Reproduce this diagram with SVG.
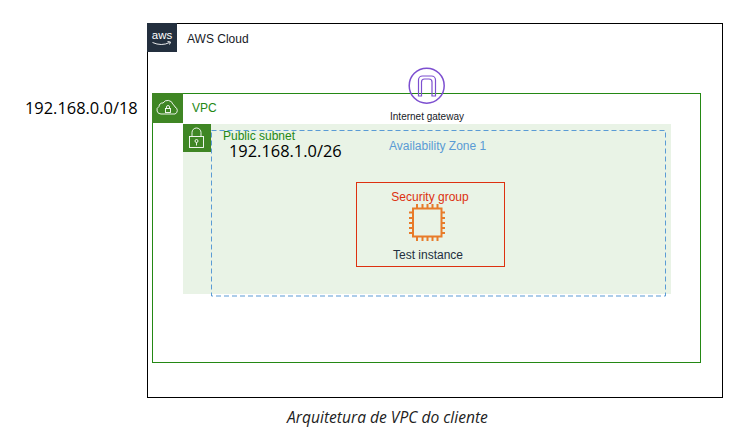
<svg xmlns="http://www.w3.org/2000/svg" width="748" height="434" viewBox="0 0 748 434">
<style>
.a{font-family:"Liberation Sans",Arial,sans-serif;font-size:12px}
.o{font-family:"Open Sans","Noto Sans",sans-serif}
.w{fill:none;stroke:#fff;stroke-width:.9}
.c{fill:none;stroke:#e87b29;stroke-width:2}
.p{fill:none;stroke:#7d4fd0}
</style>
<rect width="748" height="434" fill="#fff"/>
<g id="aws-cloud">
<rect x="147.500" y="23.500" width="575" height="374" fill="#fff" stroke="#000"/>
<rect x="147" y="23" width="30" height="29" fill="#232f3e"/>
<text x="162" y="38.500" text-anchor="middle" font-family="'Liberation Sans',sans-serif" font-size="11.500" fill="#fff">aws</text>
<path d="M152.500 42.500q9 4 17 0M167.500 41.500l3 .5l-1 2.500" class="w"/>
<text x="187" y="43" class="a" fill="#16191f">AWS Cloud</text>
</g>
<g id="vpc">
<rect x="152.500" y="93.500" width="548" height="269" fill="none" stroke="#248814"/>
<rect x="152" y="93" width="31" height="30" fill="#3f8624"/>
<path d="M161 114a4 4 0 0 1-2-7.500a3.500 3.500 0 0 1 4-3.500a5.500 5.500 0 0 1 10 1.500a3.500 3.500 0 0 1 2 2.500a3.800 3.800 0 0 1 0 7z" class="w"/>
<rect x="165.500" y="108.500" width="5" height="4" class="w"/>
<path d="M166.500 108.500v-1.500a1.500 1.500 0 0 1 3 0v1.500" class="w"/>
<text x="192" y="112" class="a" fill="#248814">VPC</text>
</g>
<g id="public-subnet">
<rect x="183" y="124" width="488" height="170" fill="#e9f3e6"/>
<rect x="183" y="124" width="28" height="28" fill="#3f8624"/>
<rect x="189.500" y="136.500" width="14" height="11" class="w"/>
<path d="M192 136.500v-4a4.500 4.500 0 0 1 9 0v4" class="w"/>
<circle cx="196.500" cy="141" r="1.500" class="w"/><path d="M196.500 142.500v3" class="w"/>
<text x="223" y="140" class="a" fill="#248814">Public subnet</text>
<text x="229" y="157" class="o" font-size="16.400" fill="#000">192.168.1.0/26</text>
</g>
<g id="availability-zone">
<rect x="211.500" y="130.500" width="454" height="165.500" fill="none" stroke="#5a9bd5" stroke-dasharray="5 3"/>
<text x="389" y="150" class="a" fill="#5a9bd5">Availability Zone 1</text>
</g>
<g id="internet-gateway">
<circle cx="426.700" cy="85.700" r="17.500" class="p" stroke-width="1.500"/>
<path d="M418.500 96V80a4 4 0 0 1 4-4h9a4 4 0 0 1 4 4v16h-3.500V82a3 3 0 0 0-3-3h-4.500a3 3 0 0 0-3 3v14z" class="p" stroke-width="1.200"/>
<text x="427" y="120" text-anchor="middle" font-family="'Liberation Sans',sans-serif" font-size="10" fill="#16191f">Internet gateway</text>
</g>
<g id="security-group">
<rect x="356.500" y="182.500" width="148" height="84" fill="none" stroke="#dd3010"/>
<text x="430" y="201" text-anchor="middle" class="a" fill="#dd3010">Security group</text>
</g>
<g id="test-instance">
<rect x="413" y="208.500" width="28.500" height="28" class="c"/>
<path d="M417 208v-4M422.500 208v-4M427.500 208v-4M432.500 208v-4M437.500 208v-4M417 237v4M422.500 237v4M427.500 237v4M432.500 237v4M437.500 237v4M413 212.500h-4M413 218h-4M413 223h-4M413 228h-4M413 233h-4M441 212.500h4M441 218h4M441 223h4M441 228h4M441 233h4" class="c" stroke-width="1.500"/>
<text x="428" y="259" text-anchor="middle" class="a" fill="#232f3e">Test instance</text>
</g>
<text x="25" y="114" class="o" font-size="16.400" fill="#000">192.168.0.0/18</text>
<text x="387.500" y="423" text-anchor="middle" class="o" font-size="15.600" font-style="italic" fill="#222">Arquitetura de VPC do cliente</text>
<g id="connectors"></g>
</svg>
